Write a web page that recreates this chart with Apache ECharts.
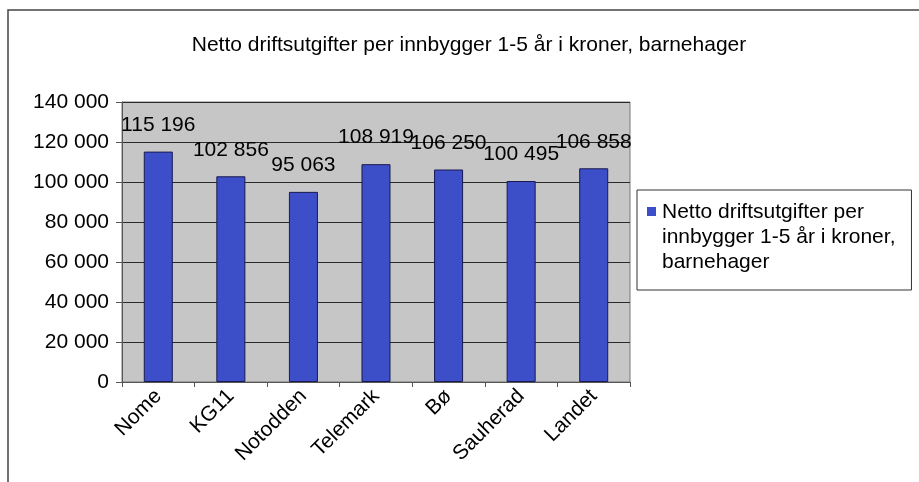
<!DOCTYPE html>
<html>
<head>
<meta charset="utf-8">
<script src="https://cdn.jsdelivr.net/npm/echarts@6/dist/echarts.min.js"></script>
<style>html,body{margin:0;padding:0;background:#fff}#c{width:919px;height:482px}</style>
</head>
<body>
<div id="c"></div>
<script>
const categories = ["Nome", "KG11", "Notodden", "Telemark", "Bø", "Sauherad", "Landet"];
const values = [115196, 102856, 95063, 108919, 106250, 100495, 106858];
const seriesName = "Netto driftsutgifter per\ninnbygger 1-5 år i kroner,\nbarnehager";
const titleText = "Netto driftsutgifter per innbygger 1-5 år i kroner, barnehager";

function fmt(v) {
  return String(v).replace(/\B(?=(\d{3})+(?!\d))/g, " ");
}
const FONT = "Liberation Sans";
const chart = echarts.init(document.getElementById('c'));
chart.setOption({
  backgroundColor: '#ffffff',
  animation: false,
  title: {
    text: titleText, left: 464, textAlign: 'center', top: 30,
    textStyle: {fontFamily: FONT, fontSize: 21, fontWeight: 'normal', color: '#000'}
  },
  graphic: [
    {type: 'rect', shape: {x: 8, y: 10, width: 930, height: 500}, style: {fill: 'none', stroke: '#444', lineWidth: 1.5}, silent: true}
  ],
  legend: {
    left: 637, top: 190,
    orient: 'vertical',
    data: [{name: seriesName, icon: 'path://M0,0h0.01v0.01h-0.01z M0,7h9v9h-9z M0,75h0.01v0.01h-0.01z'}],
    itemWidth: 9, itemHeight: 75, itemGap: 0,
    itemStyle: {borderWidth: 0, color: '#3c4ec8'},
    padding: [10, 16, 15, 10],
    borderColor: '#333', borderWidth: 1,
    backgroundColor: '#fff',
    textStyle: {fontFamily: FONT, fontSize: 21, color: '#000', lineHeight: 25, padding: [0,0,0,1]}
  },
  grid: {left: 122, right: 289, top: 102, bottom: 100, show: true, backgroundColor: '#c6c6c6', borderColor: '#777', borderWidth: 1},
  xAxis: {
    type: 'category', data: categories,
    axisLine: {lineStyle: {color: '#555'}},
    axisTick: {show: true, lineStyle: {color: '#555'}, length: 5},
    axisLabel: {rotate: 45, fontFamily: FONT, fontSize: 21, color: '#000', margin: 11, interval: 0}
  },
  yAxis: {
    type: 'value', min: 0, max: 140000, interval: 20000,
    axisLine: {show: true, lineStyle: {color: '#555'}},
    axisTick: {show: true, lineStyle: {color: '#555'}, length: 6},
    splitLine: {lineStyle: {color: '#2a2a2a', width: 1}},
    axisLabel: {fontFamily: FONT, fontSize: 21, color: '#000', margin: 13, formatter: fmt}
  },
  series: [{
    name: seriesName, type: 'bar', data: values, barWidth: '40%',
    itemStyle: {color: '#3c4ec8', borderColor: '#1a1a50', borderWidth: 1},
    label: {show: true, position: 'top', distance: 16, fontFamily: FONT, fontSize: 21, color: '#000', formatter: p => fmt(p.value)}
  }]
});
</script>
</body>
</html>
